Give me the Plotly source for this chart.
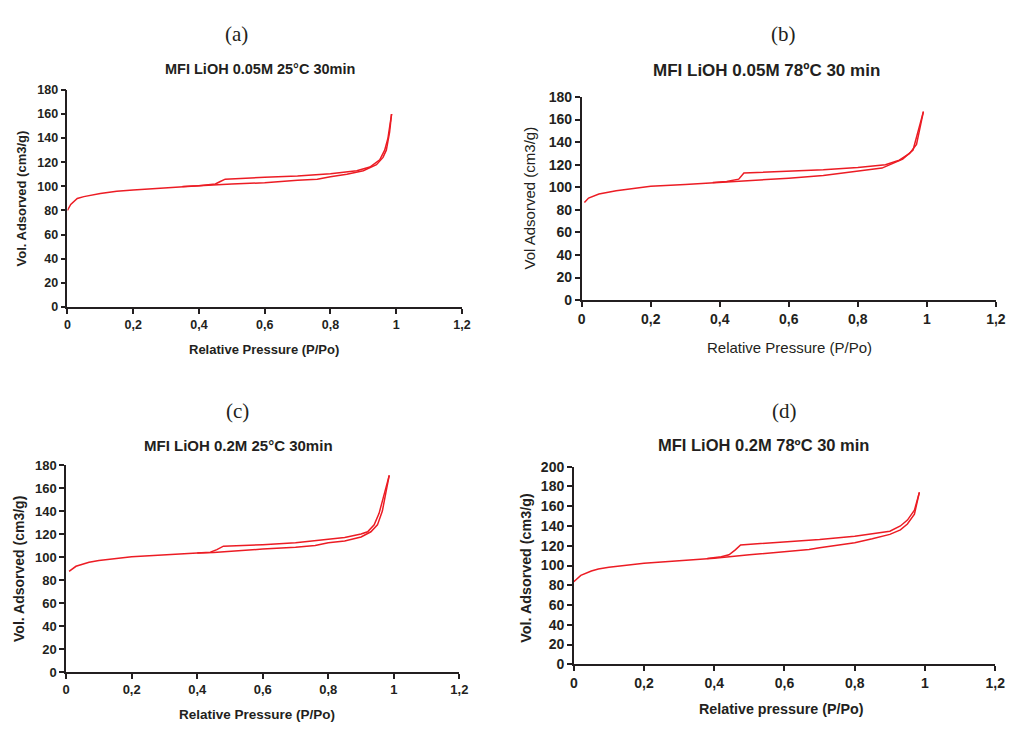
import plotly.graph_objects as go

W, H = 1020, 730
RED = "#ec1c24"
AX = "#231f20"

x_tickvals = [0, 0.2, 0.4, 0.6, 0.8, 1.0, 1.2]
x_ticktext = ["0", "0,2", "0,4", "0,6", "0,8", "1", "1,2"]

# (a) MFI LiOH 0.05M 25°C 30min
a_ads_x = [0.0, 0.01, 0.03, 0.05, 0.1, 0.15, 0.2, 0.3, 0.4, 0.5, 0.6, 0.7, 0.76, 0.8, 0.85, 0.9, 0.94, 0.96, 0.97, 0.98, 0.986]
a_ads_y = [80, 85, 90, 91.5, 94, 96, 97, 99, 100.5, 102, 103, 105, 106, 108, 110, 113, 118, 124, 130, 145, 160]
a_des_x = [0.986, 0.975, 0.965, 0.95, 0.92, 0.88, 0.8, 0.7, 0.6, 0.5, 0.48, 0.465, 0.45, 0.4, 0.35]
a_des_y = [160, 140, 130, 122, 116, 113, 110.5, 108.5, 107.5, 106.5, 106, 104, 102, 100.5, 99.8]

# (b) MFI LiOH 0.05M 78ºC 30 min
b_ads_x = [0.008, 0.02, 0.05, 0.1, 0.15, 0.2, 0.3, 0.4, 0.45, 0.5, 0.6, 0.7, 0.8, 0.87, 0.9, 0.93, 0.96, 0.975, 0.99]
b_ads_y = [86.5, 90.5, 94, 97, 99, 101, 102.5, 104.3, 105.3, 106, 108, 110.5, 114, 117, 121, 125, 133, 150, 167]
b_des_x = [0.99, 0.97, 0.95, 0.92, 0.88, 0.8, 0.7, 0.6, 0.5, 0.47, 0.455, 0.42, 0.38]
b_des_y = [167, 138, 130, 124, 120, 117.5, 115.5, 114.5, 113, 112.7, 107.2, 105.2, 104.3]

# (c) MFI LiOH 0.2M 25°C 30min
c_ads_x = [0.009, 0.03, 0.07, 0.1, 0.2, 0.3, 0.4, 0.45, 0.5, 0.6, 0.7, 0.76, 0.8, 0.85, 0.9, 0.93, 0.95, 0.965, 0.975, 0.986]
c_ads_y = [87.5, 92, 95.5, 97, 100.2, 102, 103.6, 104, 105.2, 107, 108.5, 110, 112.5, 114, 117.5, 122, 128, 140, 155, 171]
c_des_x = [0.986, 0.97, 0.955, 0.94, 0.92, 0.9, 0.85, 0.8, 0.7, 0.6, 0.5, 0.48, 0.46, 0.44, 0.4]
c_des_y = [171, 155, 138, 128, 122, 120, 117, 115.4, 112.5, 110.8, 109.6, 109.5, 106.5, 104.2, 103.6]

# (d) MFI LiOH 0.2M 78ºC 30 min
d_ads_x = [0.0, 0.02, 0.05, 0.07, 0.1, 0.15, 0.2, 0.3, 0.4, 0.5, 0.6, 0.67, 0.7, 0.8, 0.85, 0.9, 0.93, 0.95, 0.97, 0.984]
d_ads_y = [83.5, 90, 94.5, 96.5, 98.3, 100.5, 102.3, 104.8, 107.3, 110.9, 114.2, 116.2, 118, 123, 127, 131.5, 136, 142, 152, 174]
d_des_x = [0.984, 0.97, 0.95, 0.93, 0.9, 0.8, 0.7, 0.6, 0.5, 0.475, 0.46, 0.442, 0.42, 0.38]
d_des_y = [174, 156, 146, 140, 134.7, 129.7, 126.4, 124, 121.5, 120.8, 115.8, 110.9, 108.8, 107]

panels = [
    dict(key="a", ads=(a_ads_x, a_ads_y), des=(a_des_x, a_des_y), ymax=180,
         box=(64.3, 464.3, 83.7, 305.7), tick=12.5, bold_titles=True,
         title="MFI LiOH 0.05M 25°C 30min", tpos=(260, 62), tsize=14.5,
         xt="Relative Pressure (P/Po)", xtpos=(263.7, 349), xtsize=13,
         yt="Vol. Adsorved (cm3/g)", ytpos=(18, 195), ytsize=13,
         lab="(a)", labpos=(236, 27)),
    dict(key="b", ads=(b_ads_x, b_ads_y), des=(b_des_x, b_des_y), ymax=180,
         box=(585.7, 1005.7, 91, 298.7), tick=14, bold_titles=False,
         title="MFI LiOH 0.05M 78ºC 30 min", tpos=(773, 64), tsize=17,
         xt="Relative Pressure (P/Po)", xtpos=(796, 347), xtsize=15,
         yt="Vol Adsorved (cm3/g)", ytpos=(533, 194), ytsize=15,
         lab="(b)", labpos=(790, 27)),
    dict(key="c", ads=(c_ads_x, c_ads_y), des=(c_des_x, c_des_y), ymax=180,
         box=(63, 461.7, 467.3, 679), tick=13, bold_titles=True,
         title="MFI LiOH 0.2M 25°C 30min", tpos=(238, 447), tsize=15,
         xt="Relative Pressure (P/Po)", xtpos=(257, 722), xtsize=13.5,
         yt="Vol. Adsorved (cm3/g)", ytpos=(15.7, 573), ytsize=14,
         lab="(c)", labpos=(237, 412)),
    dict(key="d", ads=(d_ads_x, d_ads_y), des=(d_des_x, d_des_y), ymax=200,
         box=(577.7, 1005, 469, 671), tick=14, bold_titles=True,
         title="MFI LiOH 0.2M 78ºC 30 min", tpos=(770, 447), tsize=16.5,
         xt="Relative pressure (P/Po)", xtpos=(788, 717), xtsize=14.3,
         yt="Vol. Adsorved (cm3/g)", ytpos=(529, 572.5), ytsize=14.3,
         lab="(d)", labpos=(791, 412)),
]

FONT = "Liberation Sans, Arial, sans-serif"
SERIF = "Liberation Serif, Times New Roman, serif"

fig = go.Figure()
layout = dict(width=W, height=H, margin=dict(l=0, r=0, t=0, b=0),
              paper_bgcolor="white", plot_bgcolor="white", showlegend=False)
annotations = []

def px(x):
    return x / W

def py(y):
    return 1 - y / H

for i, p in enumerate(panels):
    n = "" if i == 0 else str(i + 1)
    xa, ya = "x" + n, "y" + n
    for xs, ys in (p["ads"], p["des"]):
        fig.add_trace(go.Scatter(x=xs, y=ys, mode="lines", xaxis=xa, yaxis=ya,
                                 line=dict(color=RED, width=1.5), hoverinfo="skip"))
    x0, x1, y0, y1 = p["box"]
    tf = dict(family=FONT, size=p["tick"], color=AX, weight="bold")
    layout["xaxis" + n] = dict(domain=[px(x0), px(x1)], anchor=ya, range=[0, 1.2],
                               tickvals=x_tickvals, ticktext=x_ticktext,
                               showline=True, linecolor=AX, linewidth=1.5,
                               ticks="outside", ticklen=5, tickwidth=1.5, tickcolor=AX,
                               showgrid=False, zeroline=False, tickfont=tf)
    layout["yaxis" + n] = dict(domain=[py(y1), py(y0)], anchor=xa, range=[0, p["ymax"]],
                               dtick=20, tick0=0,
                               showline=True, linecolor=AX, linewidth=1.5,
                               ticks="outside", ticklen=5, tickwidth=1.5, tickcolor=AX,
                               showgrid=False, zeroline=False, tickfont=tf)
    w_ax = "bold" if p["bold_titles"] else "normal"
    annotations += [
        dict(text=p["lab"], x=px(p["labpos"][0]), y=py(p["labpos"][1]),
             xref="paper", yref="paper", showarrow=False, xanchor="center", yanchor="middle",
             font=dict(family=SERIF, size=21, color=AX)),
        dict(text=p["title"], x=px(p["tpos"][0]), y=py(p["tpos"][1]),
             xref="paper", yref="paper", showarrow=False, xanchor="center", yanchor="middle",
             font=dict(family=FONT, size=p["tsize"], color=AX, weight="bold")),
        dict(text=p["xt"], x=px(p["xtpos"][0]), y=py(p["xtpos"][1]),
             xref="paper", yref="paper", showarrow=False, xanchor="center", yanchor="middle",
             font=dict(family=FONT, size=p["xtsize"], color=AX, weight=w_ax)),
        dict(text=p["yt"], x=px(p["ytpos"][0]), y=py(p["ytpos"][1]), textangle=-90,
             xref="paper", yref="paper", showarrow=False, xanchor="center", yanchor="middle",
             font=dict(family=FONT, size=p["ytsize"], color=AX, weight=w_ax)),
    ]

layout["annotations"] = annotations
fig.update_layout(**layout)
fig.write_html("out.html")
